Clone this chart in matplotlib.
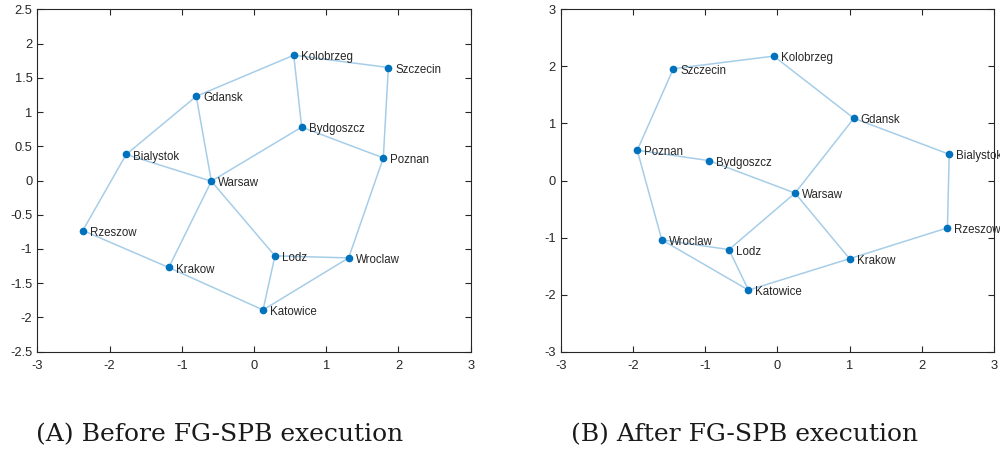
import numpy as np
import matplotlib.pyplot as plt

plt.rcParams['axes.unicode_minus'] = False
plt.rcParams['font.family'] = ['Liberation Sans', 'DejaVu Sans']

# node positions
names_a = ['Kolobrzeg', 'Szczecin', 'Gdansk', 'Bydgoszcz', 'Poznan', 'Bialystok',
           'Warsaw', 'Rzeszow', 'Krakow', 'Lodz', 'Wroclaw', 'Katowice']
x_a = [0.55, 1.86, -0.80, 0.66, 1.79, -1.77, -0.59, -2.37, -1.18, 0.29, 1.31, 0.125]
y_a = [1.83, 1.65, 1.23, 0.78, 0.33, 0.38, -0.01, -0.73, -1.27, -1.10, -1.13, -1.89]
edges_a = [('Kolobrzeg', 'Szczecin'), ('Kolobrzeg', 'Gdansk'), ('Kolobrzeg', 'Bydgoszcz'),
           ('Szczecin', 'Poznan'), ('Gdansk', 'Bialystok'), ('Gdansk', 'Warsaw'),
           ('Bydgoszcz', 'Warsaw'), ('Bydgoszcz', 'Poznan'), ('Bialystok', 'Warsaw'),
           ('Bialystok', 'Rzeszow'), ('Warsaw', 'Krakow'), ('Warsaw', 'Lodz'),
           ('Poznan', 'Wroclaw'), ('Rzeszow', 'Krakow'), ('Krakow', 'Katowice'),
           ('Lodz', 'Wroclaw'), ('Lodz', 'Katowice'), ('Wroclaw', 'Katowice')]

names_b = ['Kolobrzeg', 'Szczecin', 'Gdansk', 'Poznan', 'Bydgoszcz', 'Bialystok',
           'Warsaw', 'Rzeszow', 'Wroclaw', 'Lodz', 'Krakow', 'Katowice']
x_b = [-0.05, -1.44, 1.06, -1.94, -0.95, 2.38, 0.245, 2.355, -1.60, -0.67, 1.00, -0.40]
y_b = [2.18, 1.96, 1.09, 0.53, 0.35, 0.46, -0.22, -0.83, -1.04, -1.21, -1.37, -1.92]
edges_b = [('Szczecin', 'Kolobrzeg'), ('Kolobrzeg', 'Gdansk'), ('Gdansk', 'Bialystok'),
           ('Gdansk', 'Warsaw'), ('Szczecin', 'Poznan'), ('Poznan', 'Bydgoszcz'),
           ('Bydgoszcz', 'Warsaw'), ('Bialystok', 'Rzeszow'), ('Poznan', 'Wroclaw'),
           ('Warsaw', 'Lodz'), ('Warsaw', 'Krakow'), ('Wroclaw', 'Lodz'),
           ('Wroclaw', 'Katowice'), ('Lodz', 'Katowice'), ('Katowice', 'Krakow'),
           ('Krakow', 'Rzeszow')]

yticks_a = np.arange(-2.5, 2.51, 0.5)
yticks_b = np.arange(-3, 3.1, 1)
xticks = np.arange(-3, 3.1, 1)
captions = ['(A) Before FG-SPB execution', '(B) After FG-SPB execution']

fig = plt.figure(figsize=(10, 4.5), dpi=100)
ax1 = fig.add_axes([0.0373, 0.2184, 0.4334, 0.7609])
ax2 = fig.add_axes([0.5607, 0.2184, 0.4333, 0.7609])


def draw(ax, names, xs, ys, edges, yticks, ylim):
    pos = dict(zip(names, zip(xs, ys)))
    for a, b in edges:
        ax.plot([pos[a][0], pos[b][0]], [pos[a][1], pos[b][1]],
                color='#0072BD', alpha=0.35, lw=1.1, zorder=1)
    ax.plot(xs, ys, 'o', color='#0072BD', ms=4.5, zorder=2)
    for n in names:
        ax.annotate(n, pos[n], xytext=(5, -1.5), textcoords='offset points',
                    fontsize=8.3, color='#262626', va='center', ha='left')
    ax.set_xlim(-3, 3)
    ax.set_ylim(*ylim)
    ax.set_xticks(xticks)
    ax.set_xticklabels(['%g' % v for v in xticks])
    ax.set_yticks(yticks)
    ax.set_yticklabels(['%g' % v for v in yticks])
    ax.tick_params(direction='in', top=True, right=True, labelsize=9.3,
                   colors='#262626', length=4, width=0.8)
    ax.tick_params(axis='x', pad=6)
    for s in ax.spines.values():
        s.set_color('#262626')
        s.set_linewidth(0.8)


draw(ax1, names_a, x_a, y_a, edges_a, yticks_a, (-2.5, 2.5))
draw(ax2, names_b, x_b, y_b, edges_b, yticks_b, (-3, 3))

fig.text(0.036, 0.02, captions[0], fontsize=18, family='DejaVu Serif', ha='left', color='#1a1a1a')
fig.text(0.571, 0.02, captions[1], fontsize=18, family='DejaVu Serif', ha='left', color='#1a1a1a')

fig.savefig('out.png', dpi=100)
